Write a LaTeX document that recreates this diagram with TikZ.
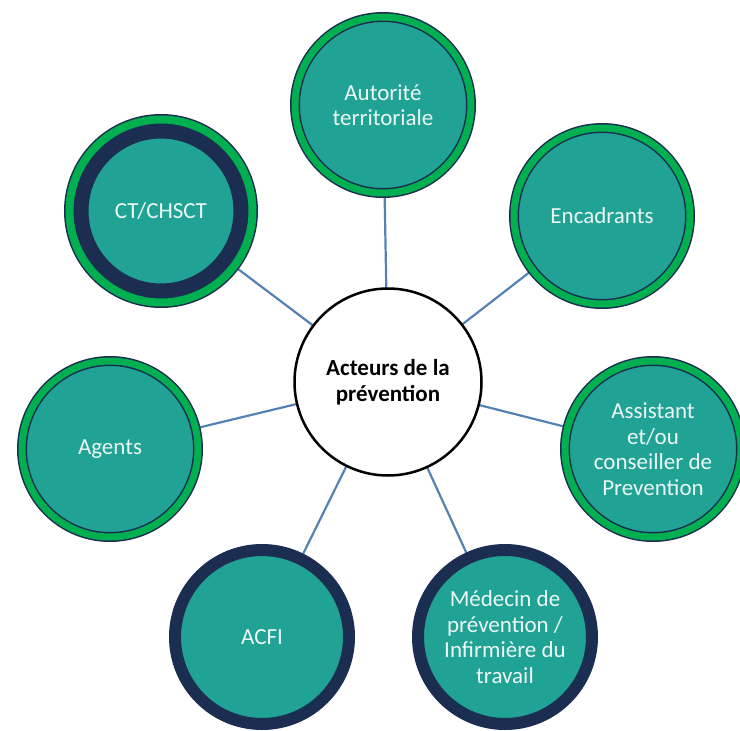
\documentclass[tikz,border=0pt]{standalone}
\usepackage{fontspec}
\setmainfont{Carlito}
\usetikzlibrary{backgrounds}
\definecolor{tealfill}{RGB}{32,162,148}
\definecolor{ringgreen}{RGB}{0,176,80}
\definecolor{ringnavy}{RGB}{28,45,82}
\definecolor{linkblue}{RGB}{84,130,178}
\definecolor{textwhite}{RGB}{236,248,245}
\tikzset{
  actor/.style={circle, fill=tealfill, text=textwhite, align=center, inner sep=0pt,
    font=\fontsize{23}{25.5}\selectfont},
  greenring/.style={actor, draw=ringnavy, line width=1.5pt, double=ringgreen,
    double distance=7pt, minimum size=176pt},
  navyring/.style={actor, draw=ringnavy, line width=12pt, minimum size=174pt},
  ctring/.style={actor, draw=ringnavy, line width=14pt, minimum size=159pt},
  outerring/.style={draw=ringnavy, line width=1.5pt, double=ringgreen, double distance=8pt},
  hub/.style={circle, fill=white, draw=black, line width=2.5pt, minimum size=187pt,
    align=center, inner sep=0pt, font=\bfseries\fontsize{23}{25.5}\selectfont},
  link/.style={draw=linkblue, line width=2.2pt}
}
\begin{document}
\begin{tikzpicture}[x=1pt, y=-1pt]
\useasboundingbox (0,0) rectangle (740,731);
\node[hub] (c) at (388,382) {Acteurs de la\\prévention};
\node[greenring] (aut) at (383,105) {Autorité\\territoriale};
\node[greenring] (enc) at (602,216) {Encadrants};
\node[greenring] (ass) at (653,449) {Assistant\\et/ou\\conseiller de\\Prevention};
\node[navyring] (med) at (505,637) {Médecin de\\prévention /\\Infirmière du\\travail};
\node[navyring] (acfi) at (262,637) {ACFI};
\node[greenring] (ag) at (110,449) {Agents};
\node[ctring] (ct) at (161,211) {CT/CHSCT};
\draw[outerring] (ct.center) circle (91.5);
\begin{pgfonlayer}{background}
  \foreach \n in {aut,enc,ass,med,acfi,ag,ct}
    \draw[link] (c.center) -- (\n.center);
\end{pgfonlayer}
\end{tikzpicture}
\end{document}
